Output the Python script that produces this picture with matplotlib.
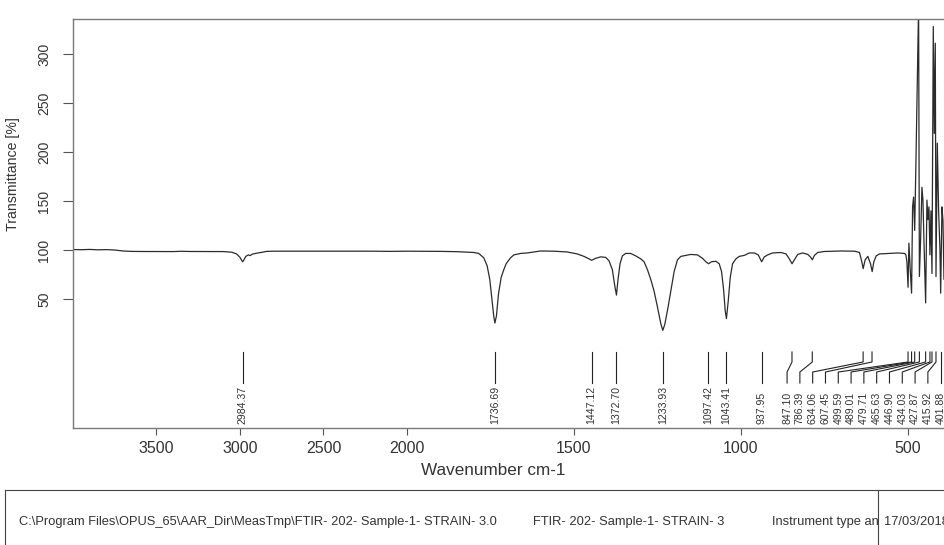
import numpy as np
import matplotlib.pyplot as plt
from matplotlib.lines import Line2D

# FTIR spectrum, wavenumber (cm-1) vs transmittance (%)
wavenumber = [4000, 3950, 3900, 3850, 3800, 3750, 3700, 3650, 3600, 3500, 3400, 3350,
              3300, 3200, 3100, 3050, 3020, 3000, 2990, 2984, 2978, 2965, 2950, 2940,
              2925, 2900, 2880, 2860, 2840, 2800, 2600, 2400, 2200, 2100, 2000, 1900,
              1850, 1800, 1785, 1770, 1760, 1752, 1745, 1740, 1736.69, 1732, 1726, 1718,
              1710, 1703, 1690, 1680, 1660, 1640, 1620, 1600, 1560, 1520, 1490, 1470,
              1455, 1447, 1435, 1420, 1405, 1395, 1385, 1378, 1372.7, 1368, 1362, 1355,
              1345, 1330, 1315, 1300, 1290, 1280, 1270, 1260, 1250, 1240, 1234, 1228,
              1218, 1208, 1200, 1190, 1180, 1165, 1150, 1130, 1115, 1105, 1097, 1088,
              1075, 1065, 1058, 1052, 1047, 1043.4, 1038, 1032, 1025, 1015, 1005, 990,
              975, 960, 948, 938, 930, 920, 905, 880, 865, 855, 847, 840, 830, 815, 800,
              792, 786, 780, 770, 750, 700, 660, 645, 638, 634, 628, 620, 612, 607, 602,
              595, 585, 560, 530, 510, 506, 503, 499.6, 497, 493, 489, 486, 483, 479.7,
              476, 468, 465.6, 462, 458, 455, 452, 446.9, 443, 440, 437, 434, 431, 427.9,
              424, 421, 418, 415.9, 412, 408, 404, 401.9, 398, 395, 392, 388, 385, 380,
              370, 360]
transmittance = [100.5, 100.3, 100.6, 100.2, 100.4, 100.0, 99.0, 98.6, 98.5, 98.5, 98.4, 98.7,
                 98.5, 98.5, 98.4, 97.8, 96.0, 92.5, 89.5, 88.0, 89.5, 93.5, 95.0, 94.3,
                 95.8, 96.8, 97.3, 98.0, 98.6, 98.8, 98.8, 98.7, 98.8, 98.6, 98.8, 98.6,
                 98.3, 97.5, 96.5, 92.0, 84.0, 70.0, 48.0, 32.0, 25.5, 33.0, 55.0, 72.0,
                 80.0, 86.0, 92.0, 95.0, 96.5, 97.0, 98.0, 99.0, 98.8, 98.0, 96.0, 93.5,
                 91.0, 89.5, 91.5, 93.0, 92.5, 89.0, 80.0, 64.0, 54.0, 70.0, 86.0, 94.0,
                 96.5, 96.5, 94.0, 91.0, 88.0, 80.0, 70.0, 58.0, 42.0, 25.0, 18.0, 24.0,
                 42.0, 62.0, 78.0, 90.0, 93.5, 94.5, 95.5, 95.0, 91.5, 88.0, 86.0, 88.0,
                 88.5, 86.0, 78.0, 60.0, 38.0, 30.0, 48.0, 72.0, 86.0, 91.0, 93.5, 94.5,
                 97.0, 97.0, 95.0, 88.0, 93.0, 95.0, 97.0, 97.5, 96.0, 91.0, 86.0, 90.0, 95.5, 97.0, 95.5,
                 93.0, 90.0, 94.5, 97.5, 98.5, 99.0, 98.8, 97.5, 88.0, 81.0, 90.0, 93.5, 86.0, 78.0, 88.0,
                 94.0, 96.0, 96.5, 97.0, 96.5, 95.0, 88.0, 62.0, 107.0, 80.0, 56.0, 144.0, 154.0, 120.0,
                 189.0, 350.0, 73.0, 110.0, 164.0, 151.0, 110.0, 46.0, 151.0, 131.0, 144.0, 95.0, 140.0, 76.0,
                 328.0, 219.0, 311.0, 73.0, 209.0, 140.0, 100.0, 56.0, 144.0, 130.0, 70.0, 120.0, 90.0, 110.0,
                 95.0, 100.0]

# picked peaks
peaks = [2984.37, 1736.69, 1447.12, 1372.70, 1233.93, 1097.42, 1043.41, 937.95,
         847.10, 786.39, 634.06, 607.45, 499.59, 489.01, 479.71, 465.63, 446.90,
         434.03, 427.87, 415.92, 401.88]

footer_path = 'C:\\Program Files\\OPUS_65\\AAR_Dir\\MeasTmp\\FTIR- 202- Sample-1- STRAIN- 3.0'
footer_name = 'FTIR- 202- Sample-1- STRAIN- 3'
footer_instr = 'Instrument type an'
footer_date = '17/03/2018'

plt.rcParams['font.family'] = ['Liberation Sans', 'DejaVu Sans']
txt_color = '#333333'

W, H = 944, 545
fig = plt.figure(figsize=(W / 100, H / 100), dpi=100)
ax = fig.add_axes([73 / W, (H - 428) / H, 885 / W, 409 / H])


# OPUS style axis: region above 2000 cm-1 drawn at half scale
def fwd(x):
    x = np.asarray(x, dtype=float)
    return np.where(x <= 2000, x, 2000 + (x - 2000) / 2)


def inv(y):
    y = np.asarray(y, dtype=float)
    return np.where(y <= 2000, y, 2000 + (y - 2000) * 2)


ax.set_xscale('function', functions=(fwd, inv))
ax.set_xlim(4000, 350)
ax.set_ylim(-81.6, 335.7)

ax.plot(wavenumber, transmittance, color='#2b2b2b', lw=0.9)

ax.set_xticks([3500, 3000, 2500, 2000, 1500, 1000, 500])
ax.set_xticklabels(['3500', '3000', '2500', '2000', '1500', '1000', '500'])
ax.xaxis.set_minor_locator(plt.NullLocator())
ax.set_yticks([50, 100, 150, 200, 250, 300])
ax.tick_params(axis='x', length=5, width=0.8, color='#555555', pad=4.5,
               labelsize=11.5, labelcolor=txt_color)
ax.tick_params(axis='y', length=7.5, width=0.8, color='#555555', pad=8,
               labelsize=10, labelcolor=txt_color)
for lab in ax.get_yticklabels():
    lab.set_rotation(90)
    lab.set_va('center')

for side in ['left', 'top', 'bottom']:
    ax.spines[side].set_color('#7a7a7a')
    ax.spines[side].set_linewidth(1.0)
ax.spines['right'].set_visible(False)

ax.set_ylabel('Transmittance [%]', fontsize=10.2, color=txt_color)
ax.yaxis.set_label_coords(-0.0599, 0.622)
ax.set_xlabel('Wavenumber cm-1', fontsize=12.3, color=txt_color)
ax.xaxis.set_label_coords(0.4746, -0.1027)
ax.xaxis.label.set_va('center')

# peak labels, spread apart from the right where they crowd
trans = ax.get_xaxis_transform()
peak_px = [ax.transData.transform((p, 0))[0] for p in peaks]
gap = 12.8
label_px = list(peak_px)
for i in range(len(peaks) - 2, -1, -1):
    label_px[i] = min(peak_px[i], label_px[i + 1] - gap)
label_x = [ax.transData.inverted().transform((px, 0))[0] for px in label_px]

y_top, y_k1, y_k2, y_bot, y_txt = 0.1858, 0.1614, 0.1369, 0.110, 0.0098
for p, ppx, lpx, lx in zip(peaks, peak_px, label_px, label_x):
    if abs(ppx - lpx) < 0.5:
        xs, ys = [p, p], [y_top, y_bot]
    else:
        xs, ys = [p, p, lx, lx], [y_top, y_k1, y_k2, y_bot]
    ax.add_line(Line2D(xs, ys, transform=trans, color='#222222', lw=0.8, clip_on=False))
    ax.text(lx, y_txt, f'{p:.2f}', transform=trans, rotation=90, ha='center', va='bottom',
            fontsize=7.6, color=txt_color, clip_on=False)


# footer box
def fx(px):
    return px / W


def fy(py):
    return 1 - py / H


box_top = 490
fig.add_artist(Line2D([fx(5), fx(W + 5)], [fy(box_top), fy(box_top)], color='#444444', lw=0.8))
fig.add_artist(Line2D([fx(5), fx(5)], [fy(box_top), fy(H + 5)], color='#444444', lw=0.8))
fig.add_artist(Line2D([fx(878), fx(878)], [fy(box_top), fy(H + 5)], color='#444444', lw=0.8))

ty = fy(522)
fkw = dict(fontsize=9.3, color=txt_color, va='center', ha='left')
fig.text(fx(19), ty, footer_path, **fkw)
fig.text(fx(533), ty, footer_name, **fkw)
fig.text(fx(772), ty, footer_instr, **fkw)
fig.text(fx(884), ty, footer_date, **fkw)

fig.savefig('out.png', dpi=100)
